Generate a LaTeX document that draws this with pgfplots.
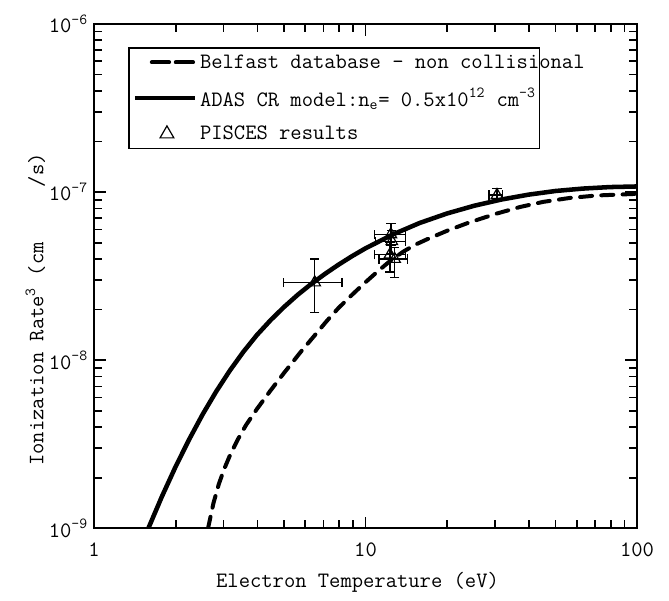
\documentclass[border=0pt]{standalone}
\usepackage{pgfplots}
\pgfplotsset{compat=1.18}
\newcommand{\cf}{\fontsize{16.5}{19}\selectfont\ttfamily}
\begin{document}
\begin{tikzpicture}
\begin{axis}[
  scale only axis,
  width=408pt, height=379pt,
  xmode=log, ymode=log,
  xmin=1, xmax=100, ymin=1e-9, ymax=1e-6,
  axis line style={line width=1.5pt},
  major tick style={line width=1.3pt, black},
  minor tick style={line width=1.2pt, black},
  major tick length=9pt, minor tick length=6pt,
  xtick={1,10,100}, xticklabels={1,10,100},
  minor xtick={2,3,4,5,6,7,8,9,20,30,40,50,60,70,80,90},
  ytick={1e-9,1e-8,1e-7,1e-6},
  minor ytick={2e-9,3e-9,4e-9,5e-9,6e-9,7e-9,8e-9,9e-9,2e-8,3e-8,4e-8,5e-8,6e-8,7e-8,8e-8,9e-8,2e-7,3e-7,4e-7,5e-7,6e-7,7e-7,8e-7,9e-7},
  yticklabels={10\textsuperscript{-9},10\textsuperscript{-8},10\textsuperscript{-7},10\textsuperscript{-6}},
  tick label style={font=\cf},
  xticklabel style={yshift=-7pt},
  yticklabel style={xshift=-1pt},
  xlabel={Electron Temperature (eV)},
  ylabel={Ionization Rate\textsuperscript{3} (cm\hspace{2.5em}/s)},
  every axis x label/.style={at={(axis description cs:0.5,0)}, anchor=center, yshift=-40.5pt, xshift=-6pt, font=\cf},
  every axis y label/.style={at={(axis description cs:-0.108,0.434)}, rotate=90, anchor=center, font=\cf},
  legend style={at={(0.0626,0.954)}, anchor=north west, draw=black, line width=1.2pt,
    font=\cf, row sep=9.5pt, inner sep=3pt, cells={anchor=west}},
  legend cell align=left,
]
\addplot[black, line width=3pt, dash pattern=on 9pt off 7pt, line cap=round,
  legend image code/.code={\draw[black, line width=3pt, dash pattern=on 13pt off 5pt] (0.45cm,0cm) -- (1.6cm,0cm);}] coordinates {
(2.630,1.000e-9) (2.754,1.413e-9) (2.884,1.841e-9) (3.020,2.265e-9) (3.162,2.704e-9)
(3.388,3.388e-9) (3.631,4.121e-9) (3.981,5.129e-9) (4.467,6.607e-9) (5.012,8.414e-9)
(5.754,1.114e-8) (6.607,1.452e-8) (7.211,1.718e-8) (7.943,2.042e-8) (8.770,2.388e-8)
(9.772,2.818e-8) (11.02,3.350e-8) (12.30,3.890e-8) (13.74,4.416e-8) (15.14,4.842e-8)
(16.87,5.248e-8) (19.95,5.888e-8) (23.66,6.531e-8) (26.92,6.998e-8) (30.48,7.464e-8)
(37.15,8.166e-8) (45.08,8.750e-8) (56.23,9.226e-8) (70.79,9.550e-8) (100,9.772e-8)
};
\addlegendentry{\makebox[250pt][l]{Belfast database - non collisional}}
\addplot[black, line width=3.4pt, line join=round,
  legend image code/.code={\draw[black, line width=3pt] (0cm,0cm) -- (1.6cm,0cm);}] coordinates {
(1.585,1.000e-9) (1.778,1.545e-9) (1.995,2.317e-9) (2.239,3.373e-9) (2.512,4.764e-9)
(2.818,6.516e-9) (3.162,8.670e-9) (3.548,1.122e-8) (3.981,1.413e-8) (4.467,1.730e-8)
(5.012,2.075e-8) (5.623,2.449e-8) (6.310,2.844e-8) (7.079,3.258e-8) (7.943,3.698e-8)
(8.913,4.159e-8) (10.00,4.634e-8) (12.59,5.598e-8) (15.85,6.561e-8) (19.95,7.464e-8)
(25.12,8.299e-8) (31.62,9.036e-8) (39.81,9.661e-8) (50.12,1.016e-7) (63.10,1.050e-7)
(79.43,1.072e-7) (100,1.081e-7)
};
\addlegendentry{\makebox[250pt][l]{ADAS CR model:n\textsubscript{e}= 0.5x10\textsuperscript{12} cm\textsuperscript{-3}}}
\addplot[black, only marks, mark=triangle, mark size=5pt, mark options={line width=0.9pt},
  legend image code/.code={\draw[black, line width=0.9pt, mark=triangle, mark size=6pt] plot coordinates {(0.85cm,0cm)};},
  error bars/.cd, x dir=both, y dir=both, x explicit, y explicit,
  error bar style={line width=1pt},
  error mark options={rotate=90, mark size=3.5pt, line width=1pt}] coordinates {
(6.5,2.9e-8) += (1.7,1.1e-8) -= (1.5,0.98e-8)
(12.4,5.6e-8) += (1.6,0.9e-8) -= (1.6,0.8e-8)
(12.5,5.1e-8) += (1.5,0.8e-8) -= (1.6,0.8e-8)
(12.3,4.25e-8) += (1.7,0.8e-8) -= (1.5,0.9e-8)
(12.8,4.0e-8) += (1.5,0.7e-8) -= (1.6,0.9e-8)
(30.5,9.6e-8) += (1.4,0.9e-8) -= (2.0,0.8e-8)
};
\addlegendentry{PISCES results}
\end{axis}
\path ([xshift=-70.6pt,yshift=-54pt]current axis.south west) rectangle ([xshift=24pt,yshift=18pt]current axis.north east);
\end{tikzpicture}
\end{document}
